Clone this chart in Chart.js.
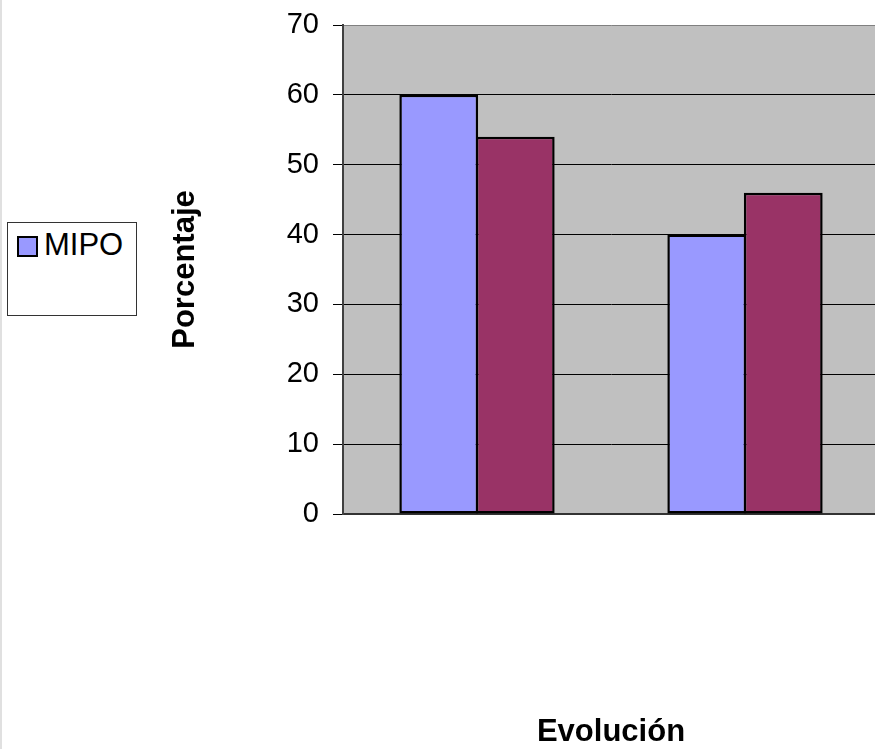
<!DOCTYPE html>
<html>
<head>
<meta charset="utf-8">
<script src="https://cdn.jsdelivr.net/npm/chart.js@4.4.1/dist/chart.umd.min.js"></script>
<style>
  html, body { margin: 0; padding: 0; background: #fff; overflow: hidden; }
  body { width: 875px; height: 749px; position: relative; }
  #edge { position: absolute; left: 0; top: 0; width: 2px; height: 749px; background: #e0e0e0; z-index: 2; }
  #wrap { position: absolute; left: 0; top: 0; width: 890px; height: 749px; }
  #legend {
    position: absolute; left: 7px; top: 222px; width: 128px; height: 92px;
    border: 1px solid #333; background: #fff;
    font-family: "Liberation Sans", Arial, sans-serif; font-size: 31px; color: #000;
  }
  #legend .sw {
    position: absolute; left: 9px; top: 13px; width: 17px; height: 17px;
    background: #9999FF; border: 2px solid #000;
  }
  #legend .lbl { position: absolute; left: 36px; top: 6px; line-height: 32px; }
</style>
</head>
<body>
<div id="edge"></div>
<div id="wrap"><canvas id="chart"></canvas></div>
<div id="legend"><div class="sw"></div><div class="lbl">MIPO</div></div>
<script>
// categories have no visible labels in the picture
const categories = ["", ""];
const mipoValues = [60, 40];
const secondValues = [54, 46];
const yTicks = [0, 10, 20, 30, 40, 50, 60, 70];

const FONT = '"Liberation Sans", Arial, sans-serif';

// grey plot area background
const plotBackground = {
  id: "plotBackground",
  beforeDraw(chart) {
    const { ctx, chartArea: a } = chart;
    ctx.save();
    ctx.fillStyle = "#C0C0C0";
    ctx.fillRect(a.left, a.top, a.right - a.left, a.bottom - a.top);
    ctx.restore();
  },
};

const ctx = document.getElementById("chart").getContext("2d");
new Chart(ctx, {
  type: "bar",
  data: {
    labels: categories,
    datasets: [
      {
        label: "MIPO",
        data: mipoValues,
        backgroundColor: "#9999FF",
        borderColor: "#000",
        borderWidth: 2.5,
        borderSkipped: false,
      },
      {
        label: "",
        data: secondValues,
        backgroundColor: "#993366",
        borderColor: "#000",
        borderWidth: 2.5,
        borderSkipped: false,
      },
    ],
  },
  options: {
    responsive: true,
    maintainAspectRatio: false,
    animation: false,
    layout: { padding: { left: 0, right: 11, top: 25, bottom: 0 } },
    plugins: { legend: { display: false }, tooltip: { enabled: false } },
    datasets: { bar: { categoryPercentage: 0.571, barPercentage: 1.03 } },
    scales: {
      x: {
        grid: { display: false, drawTicks: false },
        border: { display: true, color: "#333", width: 2 },
        ticks: { display: false },
        title: {
          display: true,
          text: "Evolución",
          color: "#000",
          font: { family: FONT, size: 31, weight: "bold", lineHeight: 1.0 },
          padding: { top: 0, bottom: 1 },
        },
        afterFit(scale) { scale.height = 235; },
      },
      y: {
        min: 0,
        max: 70,
        afterBuildTicks(scale) { scale.ticks = yTicks.map((v) => ({ value: v })); },
        grid: {
          color: (c) => (c.tick && c.tick.value === 70 ? "#808080" : "#000"),
          lineWidth: 1,
          tickLength: 10,
          tickColor: "#000",
        },
        border: { display: true, color: "#404040", width: 2 },
        ticks: {
          color: "#000",
          padding: 14,
          font: { family: FONT, size: 29 },
        },
        title: {
          display: true,
          text: "Porcentaje",
          color: "#000",
          font: { family: FONT, size: 31, weight: "bold" },
          padding: { top: 167, bottom: 0 },
        },
        afterFit(scale) {
          scale.width = 343;
          scale.paddingTop = 0;
          scale.paddingBottom = 0;
        },
      },
    },
  },
  plugins: [plotBackground],
});
</script>
</body>
</html>
